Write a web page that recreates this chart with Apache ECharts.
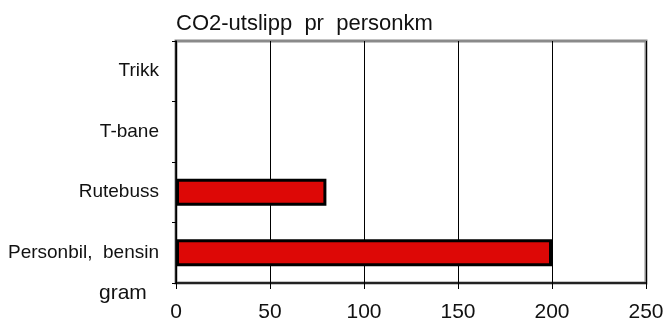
<!DOCTYPE html>
<html>
<head>
<meta charset="utf-8">
<script src="https://cdn.jsdelivr.net/npm/echarts@6/dist/echarts.min.js"></script>
<style>html,body{margin:0;padding:0;background:#fff}#c{width:668px;height:322px}</style>
</head>
<body>
<div id="c"></div>
<script>
const categories = ['Personbil,  bensin', 'Rutebuss', 'T-bane', 'Trikk'];
const values = [200, 80, 0, 0];
const valueTicks = [0, 50, 100, 150, 200, 250];
const titleText = 'CO2-utslipp  pr  personkm';
const unitText = 'gram';

const FONT = '"Liberation Sans", Arial, sans-serif';
const chart = echarts.init(document.getElementById('c'), null, {renderer: 'canvas'});
chart.setOption({
  animation: false,
  backgroundColor: '#fff',
  title: {
    text: titleText,
    left: 171, top: 8,
    textStyle: {fontFamily: FONT, fontSize: 22, fontWeight: 'normal', color: '#111'}
  },
  graphic: [{
    type: 'text', left: 99, top: 283,
    style: {text: unitText, fontFamily: FONT, fontSize: 21, fill: '#111'}
  }],
  grid: {
    left: 176, right: 22, top: 41, bottom: 39,
    outerBoundsMode: 'none', containLabel: false,
    show: true, borderColor: '#8a8a8a', borderWidth: 3, backgroundColor: '#fff'
  },
  xAxis: {
    type: 'value',
    min: valueTicks[0], max: valueTicks[valueTicks.length - 1], interval: 50,
    axisLine: {show: true, lineStyle: {color: '#000', width: 1.5}},
    axisTick: {show: true, length: 6, lineStyle: {color: '#000'}},
    splitLine: {show: true, lineStyle: {color: '#000', width: 1}},
    axisLabel: {fontFamily: FONT, fontSize: 21, color: '#111', margin: 19}
  },
  yAxis: {
    type: 'category',
    data: categories,
    axisLine: {show: true, lineStyle: {color: '#000', width: 1.5}},
    axisTick: {show: true, length: 4, lineStyle: {color: '#000'}},
    axisLabel: {fontFamily: FONT, fontSize: 19, color: '#111', margin: 17}
  },
  series: [{
    type: 'bar',
    data: values.map(v => v === 0 ? {value: v, itemStyle: {borderWidth: 0}} : v),
    barWidth: 27,
    itemStyle: {color: '#dd0806', borderColor: '#000', borderWidth: 3}
  }]
});
</script>
</body>
</html>
